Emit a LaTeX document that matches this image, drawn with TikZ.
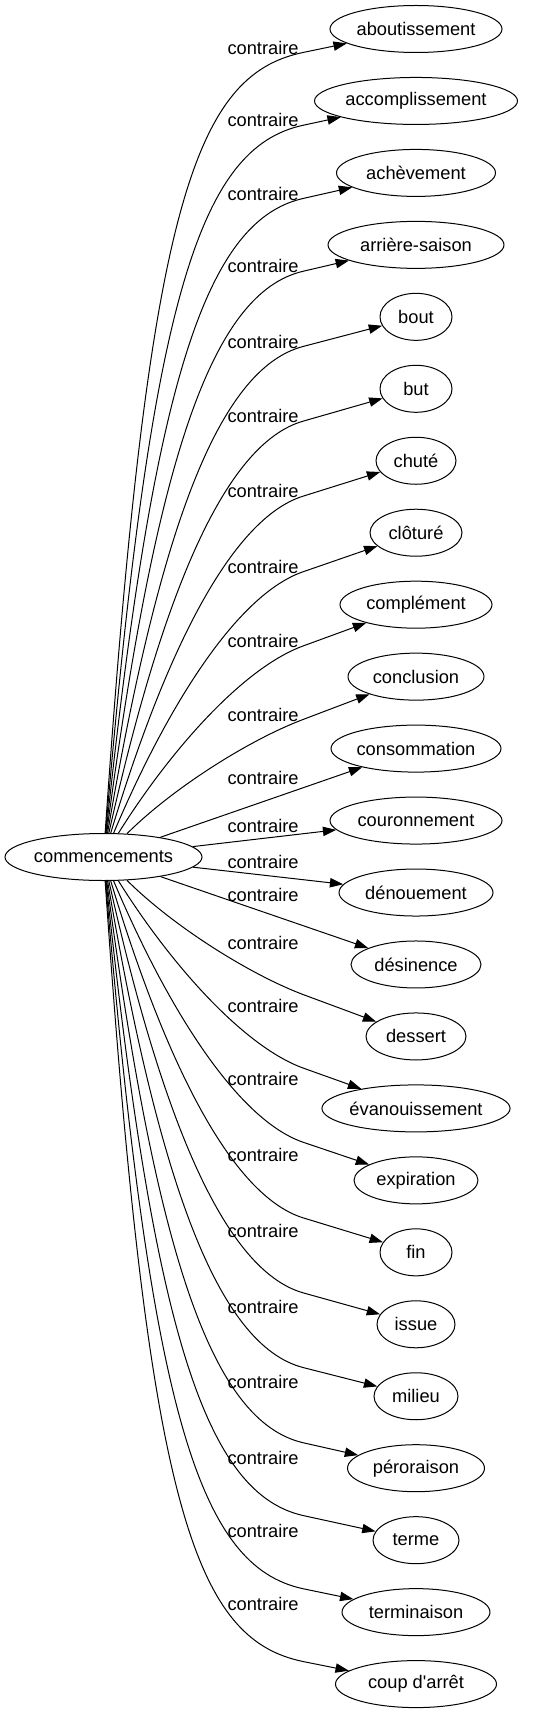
\documentclass[tikz,border=0pt]{standalone}
\usepackage{fontspec}
\setmainfont{Liberation Sans}[Ligatures=TeXOff]
\usetikzlibrary{arrows.meta, shapes.geometric}

\begin{document}
\begin{tikzpicture}[
  x=0.75pt, y=-0.75pt, line width=0.75pt,
  mot/.style={draw, ellipse, inner sep=0pt, minimum height=35.25pt,
    font=\fontsize{13.7}{16}\selectfont},
  lbl/.style={inner sep=0pt, anchor=west, font=\fontsize{13.7}{16}\selectfont},
  arr/.style={-{Triangle[length=10pt, width=7pt]}}
]
\useasboundingbox (0,0) rectangle (534,1715);
\node[mot, minimum width=147.75pt] (comm) at (103.5,857) {commencements};

\foreach \txt/\w [count=\i from 0] in {aboutissement/172, accomplissement/203,
  achèvement/159, arrière-saison/176, bout/72, but/72, chuté/80, clôturé/92,
  complément/152, conclusion/136, consommation/170, couronnement/172,
  dénouement/154, désinence/130, dessert/100, évanouissement/182,
  expiration/124, fin/72, issue/78, milieu/84, péroraison/137, terme/86,
  terminaison/148, coup d'arrêt/161}
  \node[mot, minimum width=\w*0.75pt] (t\i) at (416,{29+71.96*\i}) {\txt};

\foreach \yl [count=\i from 0] in {47.5,120.3,193.5,266.3,341.5,416.2,491.2,
  566.8,641,714.5,778.2,826,862.3,895.1,943.3,1005.6,1079,1154.5,1231,
  1306.6,1382,1457.6,1531,1604.2}
  \node[lbl] (l\i) at (227,\yl) {contraire};

% courbes du haut et leur reflet en bas
\foreach \yl [count=\i from 0] in {47.5,120.3,193.5,266.3,341.5,416.2,491.2,
  566.8,641,714.5} {
  \pgfmathtruncatemacro\j{23-\i}
  \pgfmathsetmacro\ym{\yl+5}
  \pgfmathsetmacro\yt{29+71.96*\i}
  \pgfmathsetmacro\hh{833-\ym}
  \pgfmathsetmacro\ax{148+2.75*\i}
  \pgfmathsetmacro\ay{833-(0.8-0.045*\i)*\hh}
  \pgfmathsetmacro\ang{atan((\ym-\yt)/113)}
  \pgfmathsetmacro\dd{112-6*\i}
  \pgfmathsetmacro\bx{303-\dd*cos(\ang)}
  \pgfmathsetmacro\by{\ym+\dd*sin(\ang)}
  \draw[arr] (comm) .. controls (\ax,\ay) and (\bx,\by) .. (303,\ym) -- (t\i);
  \draw[arr] (comm) .. controls (\ax,{1714-\ay}) and (\bx,{1714-\by})
    .. (303,{1714-\ym}) -- (t\j);
}

\foreach \i in {10,...,13}
  \draw[arr] (comm) -- (t\i);
\end{tikzpicture}
\end{document}
